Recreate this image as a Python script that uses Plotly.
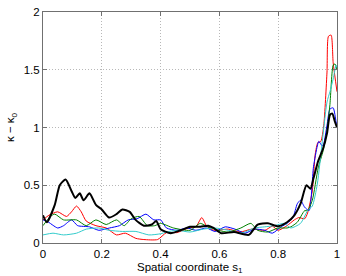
import plotly.graph_objects as go

# --- data ---
red_s = [0, 0.02, 0.05, 0.08, 0.097, 0.114, 0.13, 0.147, 0.18, 0.215, 0.25, 0.28, 0.316, 0.343, 0.39,
         0.42, 0.455, 0.495, 0.52, 0.54, 0.556, 0.58, 0.63, 0.67, 0.71, 0.755, 0.78, 0.80, 0.83, 0.855,
         0.87, 0.89, 0.90, 0.916, 0.926, 0.935, 0.945, 0.955, 0.966, 0.971, 0.98, 0.987, 1.0]
red_k = [0.20, 0.24, 0.27, 0.23, 0.27, 0.32, 0.27, 0.19, 0.15, 0.13, 0.07, 0.085, 0.04, 0.03, 0.03,
         0.09, 0.09, 0.13, 0.14, 0.22, 0.15, 0.11, 0.12, 0.095, 0.12, 0.11, 0.145, 0.11, 0.15, 0.20,
         0.22, 0.21, 0.26, 0.45, 0.77, 0.87, 0.88, 1.02, 1.48, 1.79, 1.80, 1.56, 1.31]

blue_s = [0, 0.013, 0.05, 0.07, 0.097, 0.118, 0.158, 0.19, 0.226, 0.26, 0.29, 0.32, 0.35, 0.377, 0.40,
          0.42, 0.455, 0.49, 0.52, 0.556, 0.585, 0.62, 0.653, 0.687, 0.72, 0.754, 0.78, 0.81, 0.83, 0.85,
          0.865, 0.876, 0.89, 0.905, 0.92, 0.933, 0.938, 0.95, 0.955, 0.966, 0.976, 0.987, 0.997, 1.0]
blue_k = [0.20, 0.19, 0.13, 0.15, 0.20, 0.15, 0.14, 0.11, 0.13, 0.15, 0.20, 0.21, 0.25, 0.20, 0.20,
          0.13, 0.11, 0.13, 0.11, 0.13, 0.10, 0.14, 0.12, 0.085, 0.12, 0.11, 0.085, 0.14, 0.17, 0.22,
          0.34, 0.37, 0.31, 0.28, 0.66, 0.84, 0.88, 0.84, 0.86, 1.02, 1.16, 1.17, 1.05, 1.03]

green_s = [0, 0.025, 0.04, 0.07, 0.114, 0.147, 0.18, 0.215, 0.25, 0.276, 0.30, 0.327, 0.355, 0.38, 0.40,
           0.444, 0.50, 0.535, 0.56, 0.596, 0.63, 0.673, 0.707, 0.73, 0.764, 0.80, 0.83, 0.843, 0.865,
           0.89, 0.90, 0.916, 0.936, 0.953, 0.966, 0.976, 0.987, 0.993, 1.0]
green_k = [0.15, 0.23, 0.25, 0.20, 0.20, 0.15, 0.20, 0.16, 0.20, 0.15, 0.21, 0.23, 0.15, 0.15, 0.17,
           0.13, 0.11, 0.17, 0.14, 0.11, 0.095, 0.13, 0.17, 0.11, 0.095, 0.13, 0.13, 0.14, 0.18,
           0.28, 0.28, 0.37, 0.65, 0.80, 0.97, 1.20, 1.54, 1.55, 1.50]

cyan_s = [0, 0.034, 0.07, 0.114, 0.147, 0.19, 0.225, 0.27, 0.316, 0.36, 0.40, 0.42, 0.455, 0.50, 0.545,
          0.585, 0.63, 0.673, 0.72, 0.754, 0.788, 0.82, 0.843, 0.876, 0.90, 0.916, 0.933, 0.95, 0.966,
          0.976, 0.987, 0.997, 1.0]
cyan_k = [0.07, 0.085, 0.07, 0.085, 0.12, 0.13, 0.11, 0.10, 0.10, 0.07, 0.08, 0.095, 0.11, 0.095, 0.12,
          0.13, 0.11, 0.085, 0.13, 0.14, 0.15, 0.17, 0.13, 0.17, 0.28, 0.32, 0.51, 0.88, 1.22,
          1.31, 1.42, 1.54, 1.52]

black_s = [0, 0.013, 0.04, 0.057, 0.077, 0.097, 0.11, 0.125, 0.138, 0.158, 0.18, 0.20, 0.225, 0.25, 0.27,
           0.295, 0.315, 0.343, 0.37, 0.385, 0.40, 0.434, 0.468, 0.50, 0.535, 0.562, 0.58, 0.606, 0.65,
           0.70, 0.73, 0.765, 0.80, 0.83, 0.855, 0.876, 0.896, 0.91, 0.92, 0.936, 0.953, 0.966, 0.976,
           0.984, 0.993, 1.0]
black_k = [0.24, 0.18, 0.33, 0.50, 0.55, 0.45, 0.39, 0.43, 0.37, 0.43, 0.33, 0.29, 0.22, 0.25, 0.29,
           0.27, 0.20, 0.15, 0.16, 0.19, 0.12, 0.085, 0.11, 0.14, 0.14, 0.15, 0.13, 0.085, 0.095,
           0.07, 0.16, 0.17, 0.145, 0.18, 0.24, 0.34, 0.50, 0.47, 0.56, 0.71, 0.82, 0.95, 1.11,
           1.12, 1.05, 1.00]

x_ticks = [0, 0.2, 0.4, 0.6, 0.8, 1]
x_labels = ["0", "0.2", "0.4", "0.6", "0.8", "1"]
y_ticks = [0, 0.5, 1, 1.5, 2]
y_labels = ["0", "0.5", "1", "1.5", "2"]
x_title = "Spatial coordinate s<sub>1</sub>"
y_title = "κ − κ<sub>0</sub>"

series = [
    (red_s, red_k, "#ff0000", 1.0),
    (blue_s, blue_k, "#0000ff", 1.0),
    (green_s, green_k, "#008000", 1.0),
    (cyan_s, cyan_k, "#33cccc", 1.0),
    (black_s, black_k, "#000000", 2.0),
]

fig = go.Figure()
for s, k, c, w in series:
    fig.add_trace(go.Scatter(x=s, y=k, mode="lines",
                             line=dict(color=c, width=w, shape="spline", smoothing=0.6),
                             showlegend=False, hoverinfo="skip"))

font = dict(family="Liberation Sans, Arial, sans-serif", size=11.5, color="#000000")
axis_common = dict(
    showline=True, linecolor="#707070", linewidth=1, mirror="ticks",
    ticks="inside", ticklen=4, tickcolor="#707070", tickwidth=1,
    showgrid=True, gridcolor="#b8b8b8", griddash="1px,2px", gridwidth=1,
    zeroline=False, tickfont=font,
)
fig.update_xaxes(range=[0, 1], tickvals=x_ticks, ticktext=x_labels, **axis_common)
fig.update_yaxes(range=[0, 2], tickvals=y_ticks, ticktext=y_labels,
                 title=dict(text=y_title, font=font, standoff=6),
                 **axis_common)
fig.add_annotation(text=x_title, xref="paper", yref="paper", x=0.5, y=0,
                   xanchor="center", yanchor="top", yshift=-16, showarrow=False, font=font)
fig.update_layout(
    width=346, height=276,
    margin=dict(l=43, r=6, t=9, b=33),
    paper_bgcolor="white", plot_bgcolor="white",
    font=font,
)
fig.write_html("out.html", config={"displayModeBar": False},
               post_script="document.body.style.margin='0';document.body.style.overflow='hidden';")
